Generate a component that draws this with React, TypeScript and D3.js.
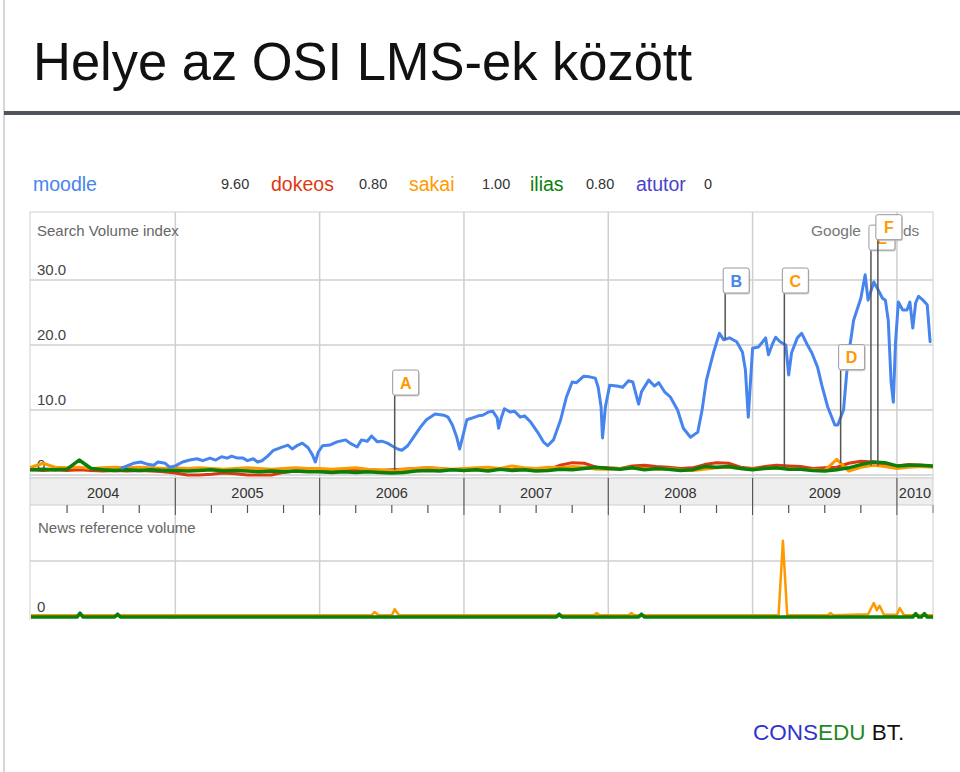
import * as d3 from "d3"

// x positions are decimal years, values are the Google Trends search index
const years = [2004, 2005, 2006, 2007, 2008, 2009, 2010]
const yTicks = [0, 10, 20, 30]

const moodleYears = [
  2004.63, 2004.71, 2004.76, 2004.8, 2004.85, 2004.88, 2004.93, 2004.96, 2005.0, 2005.05,
  2005.1, 2005.15, 2005.19, 2005.24, 2005.28, 2005.32, 2005.36, 2005.39, 2005.43, 2005.47,
  2005.5, 2005.54, 2005.57, 2005.6, 2005.64, 2005.68, 2005.74, 2005.78, 2005.81, 2005.85,
  2005.88, 2005.92, 2005.95, 2005.97, 2005.99, 2006.02, 2006.07, 2006.12, 2006.18, 2006.21,
  2006.26, 2006.29, 2006.33, 2006.36, 2006.4, 2006.43, 2006.47, 2006.5, 2006.54, 2006.57,
  2006.61, 2006.65, 2006.7, 2006.74, 2006.8, 2006.86, 2006.89, 2006.92, 2006.95, 2006.97,
  2006.99, 2007.02, 2007.06, 2007.1, 2007.13, 2007.17, 2007.2, 2007.23, 2007.24, 2007.26,
  2007.28, 2007.32, 2007.35, 2007.39, 2007.42, 2007.46, 2007.51, 2007.55, 2007.58, 2007.62,
  2007.67, 2007.71, 2007.75, 2007.78, 2007.83, 2007.87, 2007.91, 2007.93, 2007.95, 2007.96,
  2007.98, 2008.01, 2008.06, 2008.1, 2008.14, 2008.17, 2008.19, 2008.21, 2008.23, 2008.28,
  2008.32, 2008.35, 2008.39, 2008.43, 2008.48, 2008.52, 2008.57, 2008.62, 2008.65, 2008.68,
  2008.73, 2008.77, 2008.8, 2008.84, 2008.89, 2008.93, 2008.95, 2008.97, 2009.0, 2009.04,
  2009.07, 2009.09, 2009.11, 2009.14, 2009.16, 2009.19, 2009.23, 2009.25, 2009.27, 2009.31,
  2009.34, 2009.38, 2009.41, 2009.45, 2009.48, 2009.52, 2009.57, 2009.59, 2009.63, 2009.66,
  2009.7, 2009.75, 2009.78, 2009.8, 2009.84, 2009.86, 2009.9, 2009.92, 2009.94, 2009.96,
  2009.975, 2009.99, 2010.01, 2010.04, 2010.07, 2010.09, 2010.11, 2010.13, 2010.15, 2010.18,
  2010.21, 2010.23,
]
const moodleValues = [
  1.1, 1.8, 2.0, 1.7, 1.5, 2.0, 1.8, 1.2, 1.4, 2.0,
  2.3, 2.5, 2.2, 2.6, 2.3, 2.8, 2.6, 2.9, 2.6, 2.6,
  2.2, 2.5, 2.0, 2.2, 2.9, 3.8, 4.3, 4.6, 4.0, 4.6,
  4.9, 4.2, 3.1, 2.0, 3.5, 4.5, 4.6, 5.1, 5.4, 4.9,
  4.3, 5.4, 5.2, 6.0, 5.1, 5.2, 4.9, 4.5, 4.0, 3.8,
  4.5, 5.8, 7.4, 8.5, 9.4, 9.2, 8.9, 7.7, 5.8, 4.0,
  5.8, 8.5, 8.8, 9.1, 9.2, 9.7, 9.8, 8.8, 7.2, 8.9,
  10.2, 9.7, 9.8, 8.9, 9.1, 8.2, 6.6, 5.1, 4.5, 5.4,
  8.5, 12.0, 14.3, 14.2, 15.2, 15.1, 14.9, 13.5, 10.5, 5.7,
  10.5, 13.8, 13.7, 13.5, 14.5, 14.3, 12.6, 10.9, 12.8, 14.6,
  13.7, 14.2, 12.8, 12.0, 10.0, 7.2, 5.8, 6.6, 10.0, 14.6,
  18.9, 21.8, 20.8, 21.1, 20.5, 18.9, 16.2, 8.9, 19.5, 19.7,
  20.5, 21.1, 18.5, 20.3, 21.2, 20.5, 20.0, 15.4, 18.8, 21.1,
  21.8, 20.0, 18.8, 16.6, 13.8, 10.5, 7.7, 7.7, 10.0, 17.7,
  23.8, 27.2, 30.8, 26.9, 29.7, 28.9, 27.2, 26.9, 23.8, 14.2,
  11.2, 20.3, 26.6, 25.4, 25.4, 26.6, 22.6, 26.5, 27.5, 26.9,
  26.2, 20.5,
]

// monthly points, Jan 2004 .. Apr 2010
const monthYears = d3.range(76).map((i) => 2004 + i / 12)
const dokeosValues = [
  0.8, 0.7, 0.8, 0.7, 0.8, 0.7, 0.6, 0.7, 0.6, 0.7, 0.6, 0.5,
  0.3, 0.0, 0.0, 0.1, 0.3, 0.2, 0.0, 0.0, 0.0, 0.4, 0.6, 0.7,
  0.6, 0.7, 0.8, 0.7, 0.6, 0.7, 0.8, 0.9, 1.0, 1.1, 1.0, 0.8,
  0.9, 0.8, 1.0, 0.9, 0.8, 1.0, 0.9, 0.8, 1.5, 1.9, 1.8, 1.2,
  1.1, 1.0, 1.4, 1.5, 1.3, 1.2, 1.0, 1.1, 1.6, 1.9, 1.8, 1.2,
  1.0, 1.3, 1.5, 1.4, 1.3, 1.0, 1.1, 1.2, 1.8, 2.1, 2.0, 1.6,
  1.4, 1.6, 1.5, 1.3,
]
const sakaiValues = [
  1.2, 1.8, 1.2, 1.1, 1.2, 1.0, 1.1, 1.2, 1.1, 1.2, 1.1, 1.0,
  1.1, 1.0, 1.1, 1.0, 0.9, 1.0, 1.1, 1.0, 0.9, 1.0, 1.1, 1.0,
  1.0, 0.9, 1.0, 1.1, 0.9, 0.8, 0.7, 0.9, 1.0, 1.1, 1.0, 0.9,
  1.0, 1.1, 1.2, 1.0, 1.4, 1.1, 1.0, 1.2, 1.1, 1.3, 1.2, 0.9,
  0.9, 1.0, 1.1, 1.0, 0.9, 1.0, 0.8, 0.7, 0.9, 1.1, 1.2, 1.0,
  0.9, 1.0, 1.1, 1.0, 0.9, 0.8, 0.7, 2.4, 0.6, 1.2, 1.5, 1.3,
  1.0, 1.2, 1.3, 1.2,
]
const iliasValues = [
  0.8, 0.9, 0.8, 0.9, 2.3, 1.0, 0.8, 0.7, 0.8, 0.7, 0.8, 0.7,
  0.7, 0.6, 0.7, 0.8, 0.6, 0.7, 0.6, 0.5, 0.6, 0.5, 0.6, 0.5,
  0.5, 0.4, 0.5, 0.4, 0.5, 0.4, 0.3, 0.4, 0.6, 0.7, 0.6, 0.8,
  0.7, 0.8, 0.6, 0.9, 0.7, 0.8, 0.6, 0.7, 0.9, 0.8, 1.0, 1.2,
  1.0, 0.9, 1.1, 0.8, 1.0, 0.9, 0.7, 0.8, 1.3, 1.2, 1.3, 1.0,
  0.8, 1.0, 1.1, 0.9, 0.9, 0.7, 0.6, 0.8, 1.1, 1.6, 2.0, 1.9,
  1.4, 1.5, 1.5, 1.4,
]

// news reference volume, [year, value]
const newsSakai: [number, number][] = [
  [2004, 0.03], [2006.36, 0.03], [2006.38, 0.09], [2006.41, 0.03], [2006.5, 0.03],
  [2006.52, 0.14], [2006.55, 0.03], [2007.9, 0.03], [2007.92, 0.07], [2007.94, 0.03],
  [2008.14, 0.03], [2008.16, 0.07], [2008.18, 0.03], [2009.18, 0.03], [2009.21, 1.36],
  [2009.24, 0.03], [2009.52, 0.03], [2009.54, 0.07], [2009.56, 0.03], [2009.8, 0.05],
  [2009.84, 0.25], [2009.86, 0.12], [2009.88, 0.2], [2009.91, 0.04], [2010.0, 0.04],
  [2010.02, 0.16], [2010.05, 0.03], [2010.25, 0.03],
]
const newsIlias: [number, number][] = [
  [2004, 0], [2004.32, 0], [2004.34, 0.07], [2004.36, 0], [2004.58, 0], [2004.6, 0.05],
  [2004.62, 0], [2007.64, 0], [2007.66, 0.05], [2007.68, 0], [2008.21, 0], [2008.23, 0.05],
  [2008.25, 0], [2010.11, 0], [2010.13, 0.06], [2010.15, 0], [2010.17, 0], [2010.19, 0.06],
  [2010.21, 0], [2010.25, 0],
]

const legend = [
  { name: "moodle", value: "9.60", color: "#4684ee" },
  { name: "dokeos", value: "0.80", color: "#dc3912" },
  { name: "sakai", value: "1.00", color: "#ff9900" },
  { name: "ilias", value: "0.80", color: "#0a800a" },
  { name: "atutor", value: "0", color: "#4942cc" },
]
const legendX = [33, 271, 409, 530, 636]
const legendValX = [221, 359, 482, 586, 704]

const markers = [
  { label: "A", year: 2006.52, labelValue: 12.3, series: "sakai" },
  { label: "B", year: 2008.81, labelValue: 28.0, series: "moodle" },
  { label: "C", year: 2009.22, labelValue: 28.0, series: "sakai" },
  { label: "D", year: 2009.61, labelValue: 16.2, series: "sakai" },
  { label: "E", year: 2009.82, labelValue: 34.6, series: "sakai" },
  { label: "F", year: 2009.868, labelValue: 36.2, series: "sakai" },
]

const FONT = "'Liberation Sans', Arial, sans-serif"
const left = 30
const right = 933
const top = 212
const bottom = 478

const x = d3.scaleLinear().domain([2004, 2010.25]).range([31, 933])
const y = d3.scaleLinear().domain([0, 30]).range([475, 280])
const yNews = d3.scaleLinear().domain([0, 1]).range([617, 561])

const valueAt = (xs: number[], vs: number[], t: number) => {
  const i = d3.bisectLeft(xs, t)
  if (i <= 0) return vs[0]
  if (i >= xs.length) return vs[vs.length - 1]
  const f = (t - xs[i - 1]) / (xs[i] - xs[i - 1])
  return vs[i - 1] + f * (vs[i] - vs[i - 1])
}

const App = () => {
  const line = d3
    .line<number>()
    .x((_, i) => x(monthYears[i]))
    .y((d) => y(d))
  const moodleLine = d3
    .line<number>()
    .x((_, i) => x(moodleYears[i]))
    .y((d) => y(d))
  const newsLine = d3
    .line<[number, number]>()
    .x((d) => x(d[0]))
    .y((d) => yNews(d[1]))

  const quarters: number[] = []
  years.forEach((yr) => [0.25, 0.5, 0.75].forEach((q) => yr + q <= 2010.25 && quarters.push(yr + q)))

  return (
    <svg
      width={960}
      height={772}
      style={{ position: "absolute", left: 0, top: 0, background: "#fff" }}
      fontFamily={FONT}
    >
      <defs>
        <clipPath id="plot">
          <rect x={left} y={top} width={right - left} height={bottom - top} />
        </clipPath>
        <clipPath id="news">
          <rect x={left} y={515} width={right - left} height={106} />
        </clipPath>
      </defs>

      {/* slide */}
      <line x1={4} x2={4} y1={0} y2={772} stroke="#c8c8c8" strokeWidth={1.5} />
      <text x={33} y={80} fontSize={53} fill="#111" textLength={659} lengthAdjust="spacingAndGlyphs">
        Helye az OSI LMS-ek között
      </text>
      <rect x={4} y={111} width={956} height={4} fill="#4f545c" />

      {/* legend */}
      {legend.map((d, i) => (
        <g key={d.name}>
          <text x={legendX[i]} y={191} fontSize={19.5} fill={d.color}>
            {d.name}
          </text>
          <text x={legendValX[i]} y={189} fontSize={14.5} fill="#333">
            {d.value}
          </text>
        </g>
      ))}

      {/* grid */}
      <rect x={left} y={top} width={right - left} height={bottom - top} fill="#fff" stroke="#cfcfcf" />
      {years.slice(1).map((yr) => (
        <line key={yr} x1={x(yr)} x2={x(yr)} y1={top} y2={bottom} stroke="#cfcfcf" strokeWidth={1.5} />
      ))}
      {yTicks.map((t) => (
        <g key={t}>
          <line x1={left} x2={right} y1={y(t)} y2={y(t)} stroke="#cfcfcf" strokeWidth={1.5} />
          <text x={37} y={y(t) - 5} fontSize={15} fill="#444">
            {t === 0 ? "0" : t.toFixed(1)}
          </text>
        </g>
      ))}
      <text x={37} y={236} fontSize={15} fill="#666">
        Search Volume index
      </text>
      {/* "Google Trends" brand, middle hidden under the E/F flags */}
      <text x={811} y={236} fontSize={15.5} fill="#777">
        Google
      </text>
      <text x={903} y={236} fontSize={15.5} fill="#777">
        ds
      </text>

      {/* series */}
      <g clipPath="url(#plot)" fill="none" strokeLinejoin="round" strokeLinecap="round">
        <path d={line(dokeosValues) ?? ""} stroke="#dc3912" strokeWidth={3} />
        <path d={line(sakaiValues) ?? ""} stroke="#ff9900" strokeWidth={3} />
        <path d={line(iliasValues) ?? ""} stroke="#0a800a" strokeWidth={3.5} />
        <path d={moodleLine(moodleValues) ?? ""} stroke="#4684ee" strokeWidth={3} />
      </g>

      {/* annotation flags */}
      {markers.map((m) => {
        const px = x(m.year)
        const target =
          m.series === "moodle"
            ? valueAt(moodleYears, moodleValues, m.year)
            : valueAt(monthYears, sakaiValues, m.year)
        const by = y(m.labelValue) - 25
        const color = m.series === "moodle" ? "#4684ee" : "#ff9900"
        return (
          <g key={m.label}>
            <line x1={px} x2={px} y1={by + 25} y2={y(target)} stroke="#555" strokeWidth={1.5} />
            <rect x={px - 1} y={by + 1.5} width={26} height={25} rx={2} fill="#bbb" opacity={0.7} />
            <rect x={px - 2} y={by} width={26} height={25} rx={2} fill="#fff" stroke="#999" />
            <text x={px + 11} y={by + 18.5} fontSize={16} fontWeight="bold" fill={color} textAnchor="middle">
              {m.label}
            </text>
          </g>
        )
      })}

      {/* year band */}
      <rect x={left} y={bottom} width={right - left} height={27} fill="#eeeeee" stroke="#cfcfcf" />
      {years.map((yr) => {
        const a = x(yr)
        const b = x(Math.min(yr + 1, 2010.25))
        return (
          <text key={yr} x={(a + b) / 2} y={498} fontSize={14.5} fill="#333" textAnchor="middle">
            {yr}
          </text>
        )
      })}
      {years.slice(1).map((yr) => (
        <line key={yr} x1={x(yr)} x2={x(yr)} y1={bottom} y2={515} stroke="#555" strokeWidth={1.2} />
      ))}
      {quarters.map((q) => (
        <line key={q} x1={x(q)} x2={x(q)} y1={505} y2={513} stroke="#555" strokeWidth={1.2} />
      ))}

      {/* news */}
      {years.slice(1).map((yr) => (
        <line key={yr} x1={x(yr)} x2={x(yr)} y1={515} y2={619} stroke="#cfcfcf" strokeWidth={1.5} />
      ))}
      <line x1={left} x2={left} y1={505} y2={620} stroke="#cfcfcf" />
      <line x1={right} x2={right} y1={505} y2={620} stroke="#cfcfcf" />
      <line x1={left} x2={right} y1={yNews(1)} y2={yNews(1)} stroke="#cfcfcf" strokeWidth={1.5} />
      <text x={38} y={533} fontSize={15} fill="#666">
        News reference volume
      </text>
      <text x={37} y={612} fontSize={15} fill="#444">
        0
      </text>
      <g clipPath="url(#news)" fill="none" strokeLinejoin="round">
        <path d={newsLine(newsSakai) ?? ""} stroke="#ff9900" strokeWidth={2.5} />
        <path d={newsLine(newsIlias) ?? ""} stroke="#0a800a" strokeWidth={3.5} />
      </g>

      {/* footer */}
      <text x={753} y={740} fontSize={22.5}>
        <tspan fill="#3333cc">CONS</tspan>
        <tspan fill="#1f8a1f">EDU</tspan>
        <tspan fill="#111"> BT.</tspan>
      </text>
    </svg>
  )
}

export default App
